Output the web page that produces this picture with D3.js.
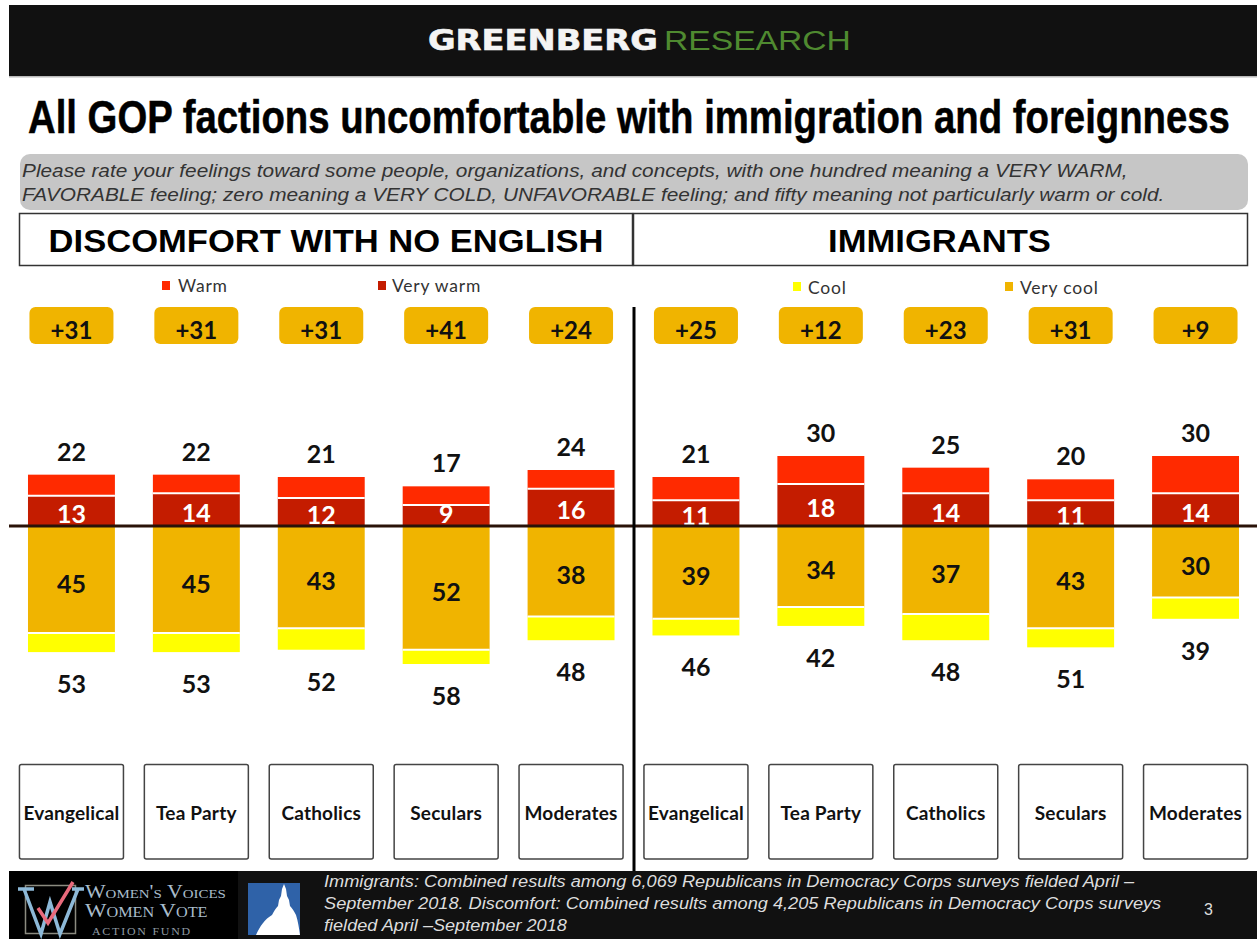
<!DOCTYPE html>
<html><head><meta charset="utf-8">
<script src="https://cdn.jsdelivr.net/npm/d3@7"></script>
<style>html,body{margin:0;padding:0;background:#fff;overflow:hidden}svg{display:block}</style>
</head><body><div id="chart"></div>
<script>
const categories = ["Evangelical","Tea Party","Catholics","Seculars","Moderates"];
const panels = ["DISCOMFORT WITH NO ENGLISH","IMMIGRANTS"];
const veryWarm = [13,14,12,9,16, 11,18,14,11,14];
const warmTotal = [22,22,21,17,24, 21,30,25,20,30];
const veryCool = [45,45,43,52,38, 39,34,37,43,30];
const coolTotal = [53,53,52,58,48, 46,42,48,51,39];
const netLabels = ["+31","+31","+31","+41","+24","+25","+12","+23","+31","+9"];
const legendLeft = ["Warm","Very warm"];
const legendRight = ["Cool","Very cool"];
const colors = {warm:"#ff2a00",veryWarm:"#c41c00",veryCool:"#f0b400",cool:"#ffff00"};
const title = "All GOP factions uncomfortable with immigration and foreignness";
const question = ["Please rate your feelings toward some people, organizations, and concepts, with one hundred meaning a VERY WARM,",
 "FAVORABLE feeling; zero meaning a VERY COLD, UNFAVORABLE feeling; and fifty meaning not particularly warm or cold."];
const footnote = ["Immigrants: Combined results among 6,069 Republicans in Democracy Corps surveys fielded April –",
 "September 2018. Discomfort: Combined results among 4,205 Republicans in Democracy Corps surveys",
 "fielded April –September 2018"];

const W=1257,H=939;
const svg=d3.select("#chart").append("svg").attr("width",W).attr("height",H);
const LATO="Lato, sans-serif", SANS="'Liberation Sans', Arial, sans-serif";
function txt(s,x,y,o={}){const t=svg.append("text").attr("x",x).attr("y",y).text(s)
  .attr("font-family",o.font||SANS).attr("font-size",o.size||16).attr("fill",o.fill||"#000")
  .attr("font-weight",o.weight||"normal").attr("font-style",o.style||"normal").attr("text-anchor",o.anchor||"start");
  if(o.ls)t.attr("letter-spacing",o.ls);
  if(o.variant)t.attr("font-variant",o.variant);
  if(o.stroke)t.attr("stroke",o.fill||"#000").attr("stroke-width",o.stroke);
  if(o.len){ // horizontal fit by scaling about the anchor point
    const k=o.len/t.node().getComputedTextLength();
    t.attr("transform",`translate(${x},0) scale(${k},1) translate(${-x},0)`);
  }
  return t;}
function rect(x,y,w,h,fill,o={}){return svg.append("rect").attr("x",x).attr("y",y).attr("width",w).attr("height",h)
  .attr("fill",fill).attr("stroke",o.stroke||"none").attr("stroke-width",o.sw||0).attr("rx",o.rx||0);}

// header
rect(9,5,W-9,71,"#111");
rect(9,76,W-9,1.5,"#bbb");
txt("GREENBERG",428,50,{font:"'DejaVu Sans',sans-serif",weight:"bold",size:28,fill:"#f4f4f4",len:230,stroke:0.6});
txt("RESEARCH",664,50,{font:SANS,size:28,fill:"#4f8a30",len:187});
// title
txt(title,28,133,{font:SANS,weight:"bold",size:46,fill:"#000",len:1202,stroke:0.5});
// question band
rect(20,154,1228,56,"#c6c6c6",{rx:10});
question.forEach((q,i)=>txt(q,22,[177.5,201][i],{style:"italic",size:18,fill:"#333",len:[1106,1143][i]}));
// panel boxes
rect(19.5,213.5,613,52,"#fff",{stroke:"#333",sw:1.5});
rect(633.5,213.5,614,52,"#fff",{stroke:"#333",sw:1.5});
txt(panels[0],326,252.5,{weight:"bold",size:32,anchor:"middle",len:555});
txt(panels[1],939.5,252.5,{weight:"bold",size:32,anchor:"middle",len:223});
// legends
[[162,281,colors.warm,legendLeft[0],178,292],[378,281,colors.veryWarm,legendLeft[1],392,292],
 [793,282,colors.cool,legendRight[0],808,294],[1005,282,colors.veryCool,legendRight[1],1020,294]].forEach(l=>{
  rect(l[0],l[1],8,9,l[2]);
  txt(l[3],l[4],l[5],{font:LATO,size:17.5,fill:"#333",ls:0.8});
});

// scales
const x=d3.scaleBand().domain(d3.range(10)).range([9,1258]).paddingInner(38/125).paddingOuter(19/125);
const y=d3.scaleLinear().domain([-58,0,30]).range([664,526,456]);
const bw=x.bandwidth();
const idx=d3.range(10);
const g=svg.append("g");
function seg(cls,fill,top,bot){g.selectAll("rect."+cls).data(idx).join("rect").attr("class",cls)
  .attr("x",d=>x(d)).attr("width",bw).attr("y",d=>y(top(d))).attr("height",d=>y(bot(d))-y(top(d))).attr("fill",fill);}
seg("w",colors.warm,d=>warmTotal[d],d=>veryWarm[d]);
seg("vw",colors.veryWarm,d=>veryWarm[d],()=>0);
seg("vc",colors.veryCool,()=>0,d=>-veryCool[d]);
seg("c",colors.cool,d=>-veryCool[d],d=>-coolTotal[d]);
// white separators
g.selectAll("line.s1").data(idx).join("line").attr("class","s1").attr("x1",d=>x(d)).attr("x2",d=>x(d)+bw)
  .attr("y1",d=>y(veryWarm[d])).attr("y2",d=>y(veryWarm[d])).attr("stroke","#fff").attr("stroke-width",2);
g.selectAll("line.s2").data(idx).join("line").attr("class","s2").attr("x1",d=>x(d)).attr("x2",d=>x(d)+bw)
  .attr("y1",d=>y(-veryCool[d])).attr("y2",d=>y(-veryCool[d])).attr("stroke","#fff").attr("stroke-width",2);
// labels
const cx=d=>x(d)+bw/2;
const lab=(cls,val,yf,fill)=>g.selectAll("text."+cls).data(idx).join("text").attr("class",cls)
  .attr("x",cx).attr("y",yf).attr("text-anchor","middle").attr("font-family",LATO).attr("font-weight","bold")
  .attr("font-size",25).attr("fill",fill).text(val);
lab("tt",d=>warmTotal[d],d=>y(warmTotal[d])-14,"#111");
lab("vwl",d=>veryWarm[d],d=>y(veryWarm[d]/2)+(d===3?7:12),"#fff");
lab("vcl",d=>veryCool[d],d=>y(-veryCool[d]/2)+13,"#111");
lab("bt",d=>coolTotal[d],d=>y(-coolTotal[d])+41,"#111");
// net pills
g.selectAll("rect.pill").data(idx).join("rect").attr("class","pill").attr("x",d=>cx(d)-42).attr("width",84)
  .attr("y",307).attr("height",37).attr("rx",6).attr("fill",colors.veryCool);
g.selectAll("text.net").data(idx).join("text").attr("class","net").attr("x",cx).attr("y",339)
  .attr("text-anchor","middle").attr("font-family",LATO).attr("font-weight","bold").attr("font-size",24).attr("fill","#111")
  .text(d=>netLabels[d]);
// axis lines
svg.append("line").attr("x1",9).attr("x2",W).attr("y1",y(0)).attr("y2",y(0)).attr("stroke","#2a1208").attr("stroke-width",3);
// category boxes
g.selectAll("rect.cat").data(idx).join("rect").attr("class","cat").attr("x",d=>cx(d)-52).attr("width",104)
  .attr("y",764.5).attr("height",94.5).attr("rx",2).attr("fill","#fff").attr("stroke","#444").attr("stroke-width",1.5);
g.selectAll("text.catl").data(idx).join("text").attr("class","catl").attr("x",cx).attr("y",820)
  .attr("text-anchor","middle").attr("font-family",LATO).attr("font-weight","bold").attr("font-size",19).attr("letter-spacing",0.2).attr("fill","#111")
  .text(d=>categories[d%5]);
// footer
rect(9,871,W-9,68,"#111");
rect(9,871,229,68,"#000");
svg.append("line").attr("x1",634).attr("x2",634).attr("y1",307).attr("y2",871).attr("stroke","#000").attr("stroke-width",3);
footnote.forEach((f,i)=>txt(f,324,[887,909,931][i],{style:"italic",size:16.5,fill:"#ddd",len:[811,838,243][i]}));
txt("3",1204,915,{size:16,fill:"#ddd"});
// logos
rect(25.5,885.5,50,48,"none",{stroke:"#8b8b80",sw:1.5});
svg.append("path").attr("d","M18 889H34M24 889L41 934L50 902L60 934L78 889M72 889H84").attr("fill","none").attr("stroke","#8db9d8").attr("stroke-width",3.5);
svg.append("path").attr("d","M38 908L48 923L73 882").attr("fill","none").attr("stroke","#e96a7c").attr("stroke-width",3.5);
txt("Women's Voices",85,898,{font:"'Liberation Serif',serif",size:19,fill:"#a8bccb",variant:"small-caps",len:141});
txt("Women Vote",85,917,{font:"'Liberation Serif',serif",size:19,fill:"#a8bccb",variant:"small-caps",len:119});
txt("ACTION FUND",92,935,{font:"'Liberation Serif',serif",size:10,fill:"#8f9aa2",ls:1.5,len:100});
rect(248,883,52,52,"#2f62a8");
svg.append("path").attr("d","M256 935C260 926 265 919 272 915C274 911 276 908 278 906L279 900L281 896L282 889L284 884L286 889L287 896L289 900L290 906C292 908 294 911 296 915C298 921 299 928 300 935Z").attr("fill","#fff");
</script></body></html>
